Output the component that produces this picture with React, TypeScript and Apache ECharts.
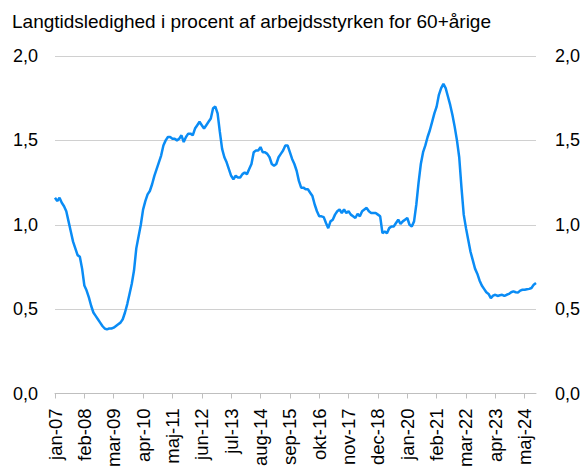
import React, { useEffect, useRef } from "react";
import * as echarts from "echarts";

const monthNames = ["jan", "feb", "mar", "apr", "maj", "jun", "jul", "aug", "sep", "okt", "nov", "dec"];
const startYear = 2007;

const values: number[] = [
  // 2007
  1.16, 1.14, 1.16, 1.13, 1.11, 1.08, 1.02, 0.96, 0.9, 0.86, 0.82, 0.81,
  // 2008
  0.74, 0.64, 0.61, 0.57, 0.52, 0.48, 0.46, 0.44, 0.42, 0.4, 0.385, 0.38,
  // 2009
  0.385, 0.385, 0.39, 0.4, 0.41, 0.42, 0.44, 0.48, 0.53, 0.59, 0.65, 0.73,
  // 2010
  0.86, 0.93, 1.0, 1.09, 1.14, 1.18, 1.2, 1.24, 1.29, 1.33, 1.37, 1.41,
  // 2011
  1.47, 1.5, 1.52, 1.52, 1.51, 1.51, 1.5, 1.51, 1.53, 1.49, 1.52, 1.54,
  // 2012
  1.54, 1.53, 1.57, 1.59, 1.61, 1.59, 1.57, 1.59, 1.61, 1.63, 1.69, 1.7,
  // 2013
  1.66, 1.55, 1.45, 1.4, 1.37, 1.33, 1.29, 1.27, 1.29, 1.28, 1.28, 1.3,
  // 2014
  1.31, 1.3, 1.33, 1.36, 1.43, 1.44, 1.44, 1.46, 1.43, 1.43, 1.42, 1.4,
  // 2015
  1.36, 1.35, 1.36, 1.4, 1.42, 1.44, 1.47, 1.47, 1.43, 1.39, 1.36, 1.32,
  // 2016
  1.26, 1.22, 1.22, 1.21, 1.21, 1.19, 1.17, 1.12, 1.08, 1.05, 1.05, 1.045,
  // 2017
  1.01, 0.98, 1.02, 1.03, 1.06, 1.08, 1.09, 1.07, 1.09, 1.07, 1.08, 1.06,
  // 2018
  1.05, 1.04, 1.065, 1.05, 1.08, 1.09, 1.1, 1.08, 1.07, 1.07, 1.07, 1.06,
  // 2019
  1.05, 0.95, 0.96, 0.95, 0.98, 0.99, 0.99, 1.01, 1.03, 1.005, 1.02, 1.03,
  // 2020
  1.04, 1.0, 0.99, 1.02, 1.12, 1.25, 1.36, 1.43, 1.47, 1.52, 1.56, 1.61,
  // 2021
  1.66, 1.7, 1.77, 1.81, 1.835, 1.81, 1.76, 1.71, 1.65, 1.58, 1.5, 1.4,
  // 2022
  1.22, 1.06, 0.98, 0.91, 0.84, 0.79, 0.74, 0.71, 0.67, 0.64, 0.62, 0.6,
  // 2023
  0.59, 0.565, 0.58, 0.585, 0.578, 0.582, 0.585, 0.578, 0.585, 0.59, 0.6, 0.605,
  // 2024
  0.6, 0.598, 0.61, 0.615, 0.615, 0.618, 0.62, 0.625, 0.645, 0.655,
];

const categories: string[] = values.map((_, i) => {
  const y = startYear + Math.floor(i / 12);
  return `${monthNames[i % 12]}-${String(y % 100).padStart(2, "0")}`;
});

const yTicks = [0, 0.5, 1, 1.5, 2];

const titleText = "Langtidsledighed i procent af arbejdsstyrken for 60+årige";

const fmt = (v: number) => v.toFixed(1).replace(".", ",");

export default function App() {
  const ref = useRef<HTMLDivElement>(null);
  useEffect(() => {
    document.body.style.margin = "0";
    if (!ref.current) return;
    const chart = echarts.init(ref.current, undefined, { renderer: "svg" });
    const font = "'Liberation Sans', Arial, sans-serif";
    const yAxisCommon = {
      type: "value" as const,
      min: yTicks[0],
      max: yTicks[yTicks.length - 1],
      interval: 0.5,
      axisLine: { show: false },
      axisTick: { show: false },
      axisLabel: {
        formatter: (v: number) => fmt(v),
        color: "#000",
        fontSize: 18,
        fontFamily: font,
        margin: 17,
      },
    };
    chart.setOption({
      animation: false,
      backgroundColor: "#fff",
      title: {
        text: titleText,
        left: 7,
        top: 7,
        textStyle: { color: "#000", fontSize: 19, fontWeight: "normal", fontFamily: font },
      },
      grid: {
        left: 55,
        right: 51,
        top: 56,
        bottom: 73.5,
        containLabel: false,
        outerBoundsMode: "none",
      },
      xAxis: {
        type: "category",
        data: categories,
        boundaryGap: false,
        axisLine: { show: true, lineStyle: { color: "#bfbfbf", width: 1 } },
        axisTick: { show: true, interval: 12, length: 5, lineStyle: { color: "#bfbfbf" } },
        axisLabel: {
          interval: 12,
          rotate: 90,
          color: "#000",
          fontSize: 18.5,
          fontFamily: font,
          margin: 15,
        },
        splitLine: { show: false },
      },
      yAxis: [
        {
          ...yAxisCommon,
          position: "left",
          splitLine: { show: true, lineStyle: { color: "#d0d0d0", width: 1 } },
        },
        {
          ...yAxisCommon,
          position: "right",
          splitLine: { show: false },
          axisLabel: { ...yAxisCommon.axisLabel, margin: 19 },
        },
      ],
      series: [
        {
          type: "line",
          data: values,
          yAxisIndex: 0,
          showSymbol: false,
          symbol: "none",
          lineStyle: { color: "#0a8cf5", width: 2.5 },
          z: 3,
        },
      ],
    });
    return () => chart.dispose();
  }, []);
  return <div ref={ref} style={{ width: 587, height: 467 }} />;
}
